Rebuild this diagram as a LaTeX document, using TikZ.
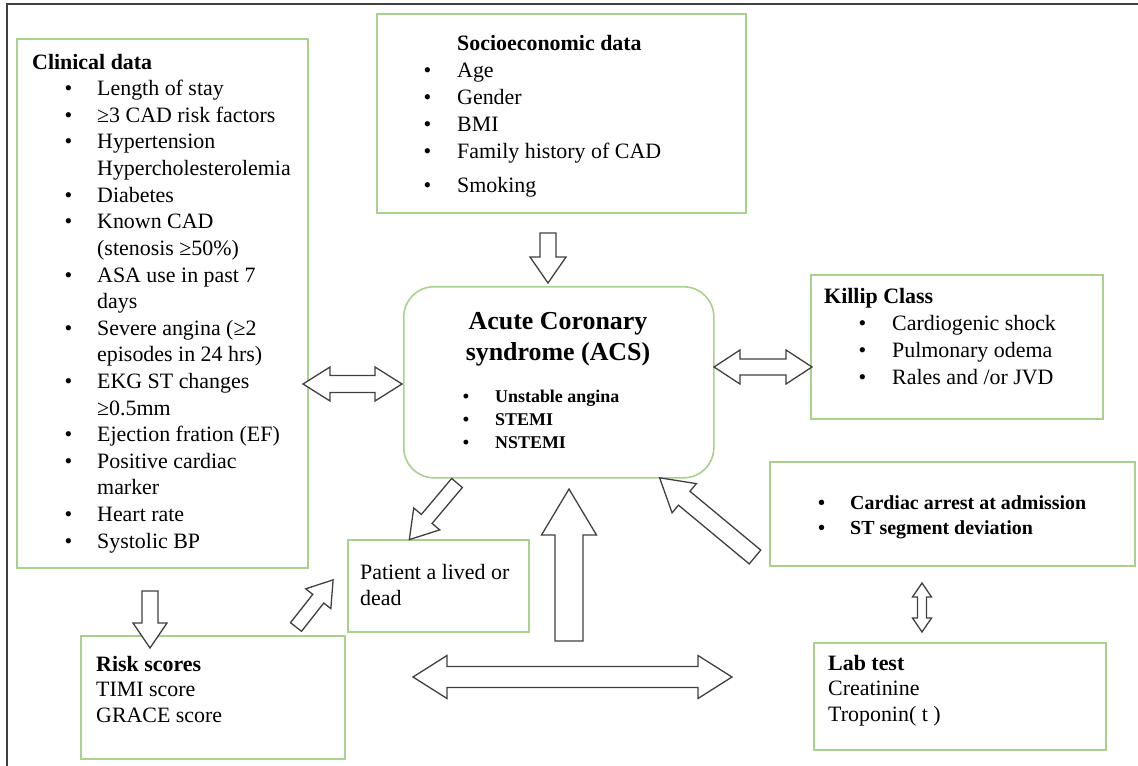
\documentclass[tikz,border=0pt]{standalone}
\usepackage{fontspec}
\setmainfont{Liberation Serif}
\definecolor{boxgreen}{HTML}{A9D18E}
\definecolor{arrowgray}{HTML}{404040}
\newcommand\bul[1]{\llap{•\hspace{#1}}}
\tikzset{
	% block arrow pointing along +x: length / shaft half width / head half width / head length
	pics/onearrow/.style n args={4}{code={
		\draw[arrowline] (0,-#2) -- ({#1-#4},-#2) -- ({#1-#4},-#3) -- (#1,0)
			-- ({#1-#4},#3) -- ({#1-#4},#2) -- (0,#2) -- cycle;
	}},
	pics/twoarrow/.style n args={4}{code={
		\draw[arrowline] (0,0) -- (#4,#3) -- (#4,#2) -- ({#1-#4},#2) -- ({#1-#4},#3) -- (#1,0)
			-- ({#1-#4},-#3) -- ({#1-#4},-#2) -- (#4,-#2) -- (#4,-#3) -- cycle;
	}},
}

\begin{document}
\begin{tikzpicture}[
		x=1bp, y=-1bp,
		box/.style={draw=boxgreen, line width=1.6bp, anchor=north west, inner sep=0pt},
		txt/.style={anchor=base west, inner sep=0pt, align=left, font=\fontsize{22}{#1}\selectfont},
		txt/.default=27,
		arrowline/.style={draw=arrowgray, line width=1.3bp, fill=white, line join=miter},
		frame/.style={draw=arrowgray, line width=1.5bp},
	]
		\useasboundingbox (0,0) rectangle (1138,766);
		\draw[frame] (7,766) -- (7,4) -- (1138,4);
		
		% boxes
		\node[box, minimum width=291bp, minimum height=529bp] (clin) at (16,38) {};
		\node[box, minimum width=369bp, minimum height=199bp] (socio) at (376,13) {};
		\node[box, minimum width=310bp, minimum height=191bp, rounded corners=30bp] (acs) at (403,286) {};
		\node[box, minimum width=292bp, minimum height=144bp] (killip) at (810,274) {};
		\node[box, minimum width=365bp, minimum height=104bp] (arrest) at (769,461) {};
		\node[box, minimum width=292bp, minimum height=107bp] (lab) at (813,642) {};
		\node[box, minimum width=264bp, minimum height=123bp] (risk) at (80,635) {};
		\node[box, minimum width=181bp, minimum height=92bp] (patient) at (347,539) {};
		
		% texts (anchored at the baseline of their last line)
		\node[txt=26.7] (clintext) at (97,548) {\hspace*{-65bp}\textbf{Clinical data}\\
			\bul{25bp}Length of stay\\
			\bul{25bp}≥3 CAD risk factors\\
			\bul{25bp}Hypertension\\
			Hypercholesterolemia\\
			\bul{25bp}Diabetes\\
			\bul{25bp}Known CAD\\
			(stenosis ≥50\%)\\
			\bul{25bp}ASA use in past 7\\
			days\\
			\bul{25bp}Severe angina (≥2\\
			episodes in 24 hrs)\\
			\bul{25bp}EKG ST changes\\
			≥0.5mm\\
			\bul{25bp}Ejection fration (EF)\\
			\bul{25bp}Positive cardiac\\
			marker\\
			\bul{25bp}Heart rate\\
			\bul{25bp}Systolic BP};
		\node[txt] (sociotext) at (457,192) {\textbf{Socioeconomic data}\\
			\bul{26bp}Age\\
			\bul{26bp}Gender\\
			\bul{26bp}BMI\\
			\bul{26bp}Family history of CAD\\[7bp]
			\bul{26bp}Smoking};
		\node[txt] (killiptext) at (892,384) {\hspace*{-68bp}\textbf{Killip Class}\\
			\bul{26bp}Cardiogenic shock\\
			\bul{26bp}Pulmonary odema\\
			\bul{26bp}Rales and /or JVD};
		\node[txt, font=\fontsize{20}{25}\selectfont\bfseries] (arresttext) at (850,534) {\bul{25bp}Cardiac arrest at admission\\
			\bul{25bp}ST segment deviation};
		\node[txt=25.5] (labtext) at (828,721) {\textbf{Lab test}\\ Creatinine\\ Troponin( t )};
		\node[txt=25.5] (risktext) at (96,722) {\textbf{Risk scores}\\ TIMI score\\ GRACE score};
		\node[txt=25.5] (patienttext) at (360,605) {Patient a lived or\\ dead};
		\node[anchor=base, inner sep=0pt, align=center, font=\fontsize{26}{31}\selectfont\bfseries] (acstitle) at (558,360) {Acute Coronary\\ syndrome (ACS)};
		\node[txt, font=\fontsize{18}{23}\selectfont\bfseries] (acstext) at (495,448) {\bul{26bp}Unstable angina\\
			\bul{26bp}STEMI\\
			\bul{26bp}NSTEMI};
		
		% block arrows
		\pic[rotate=-90] at (548,233) {onearrow={50}{8}{18}{26}};
		\pic[rotate=-90] at (150,591) {onearrow={57}{8}{17}{25}};
		\pic[rotate=51.8] at (296,627) {onearrow={60}{7}{16}{24}};
		\pic[rotate=-130.1] at (457,483) {onearrow={74}{7}{17}{27}};
		\pic[rotate=90] at (569,641) {onearrow={152}{14}{27.5}{46}};
		\pic[rotate=140.3] at (755,557) {onearrow={124}{9}{19}{32}};
		\pic at (303,384) {twoarrow={99}{8.5}{17}{27}};
		\pic at (714,367) {twoarrow={98}{8}{17}{26}};
		\pic at (413,677) {twoarrow={319}{10.5}{21.5}{34}};
		\pic[rotate=-90] at (922,583) {twoarrow={49}{4.5}{9.5}{14}};
	\end{tikzpicture}
\end{document}
